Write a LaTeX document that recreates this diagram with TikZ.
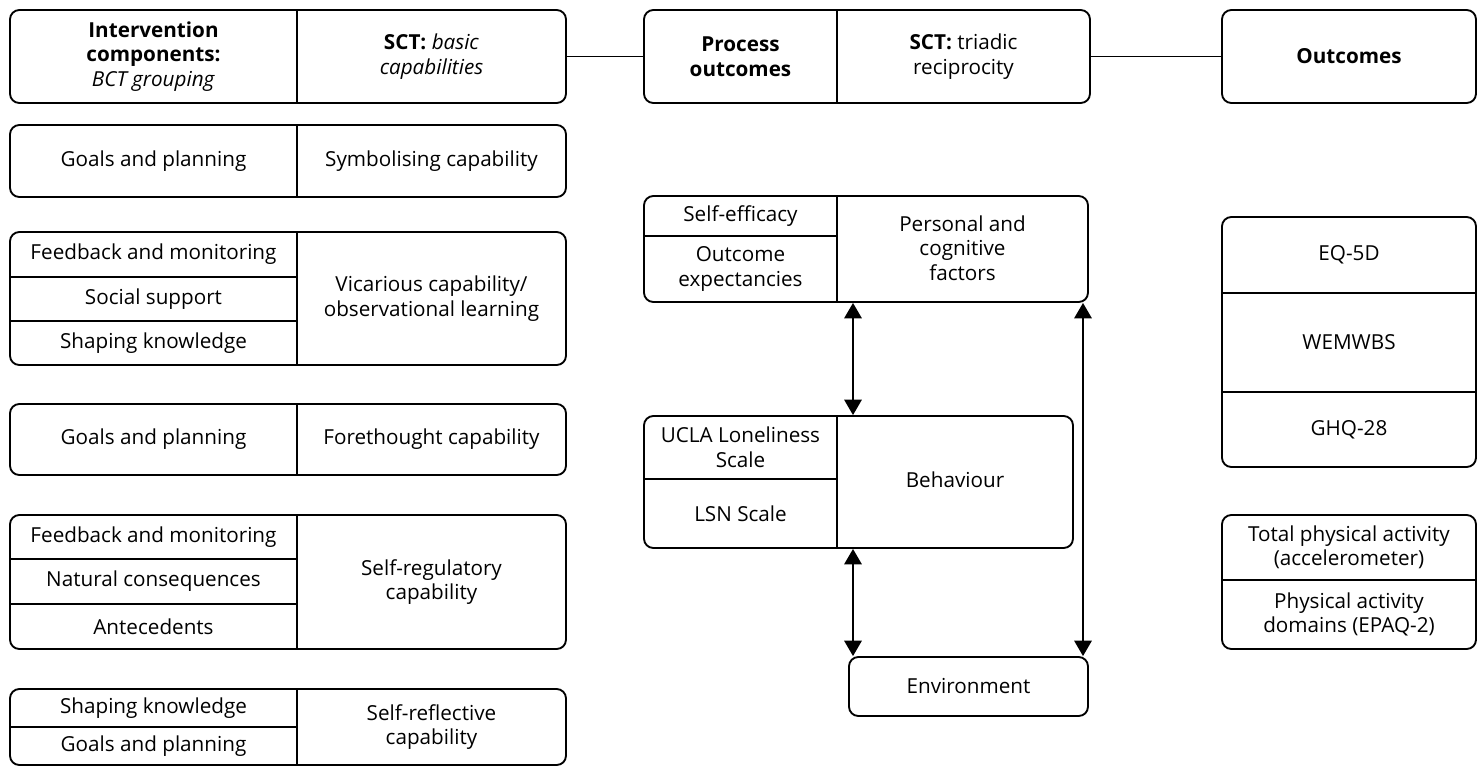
\documentclass[tikz,border=0pt]{standalone}
\usepackage{fontspec}
\setmainfont{Open Sans}
\usetikzlibrary{fit,arrows.meta}

\tikzset{
  box/.style={draw, line width=1.4pt, rounded corners=7pt, inner sep=0pt},
  sep/.style={line width=1.3pt},
  txt/.style={align=center, font=\fontsize{15.5}{18.4}\selectfont, inner sep=0pt},
  link/.style={line width=1.4pt},
  dbl/.style={line width=1.4pt, {Triangle[width=13pt,length=11.5pt]}-{Triangle[width=13pt,length=11.5pt]}},
}

\begin{document}
\begin{tikzpicture}[x=0.75pt,y=-0.75pt]
\useasboundingbox (0,0) rectangle (1478,776);

% header row
\node[box, fit={(10,10) (566,103)}] (hdrL) {};
\draw[sep] (297,10) -- (297,103);
\node[txt] (hdrLa) at (153.5,56.5) {\textbf{Intervention}\\\textbf{components:}\\\textit{BCT grouping}};
\node[txt] (hdrLb) at (431.5,56.5) {\textbf{SCT:} \textit{basic}\\\textit{capabilities}};

\node[box, fit={(644,10) (1090,103)}] (hdrM) {};
\draw[sep] (837,10) -- (837,103);
\node[txt] (hdrMa) at (740.5,56.5) {\textbf{Process}\\\textbf{outcomes}};
\node[txt] (hdrMb) at (963.5,56.5) {\textbf{SCT:} triadic\\reciprocity};

\node[box, fit={(1222,10) (1476,103)}] (hdrR) {};
\node[txt] (hdrRa) at (1349,56.5) {\textbf{Outcomes}};

\draw[link] (hdrL.east) -- (hdrM.west);
\draw[link] (hdrM.east) -- (hdrR.west);

% basic capabilities
\node[box, fit={(10,125) (566,197)}] (symb) {};
\draw[sep] (297,125) -- (297,197);
\node[txt] (symba) at (153.5,161) {Goals and planning};
\node[txt] (symbb) at (431.5,161) {Symbolising capability};

\node[box, fit={(10,232) (566,365)}] (vica) {};
\draw[sep] (297,232) -- (297,365);
\draw[sep] (10,277) -- (297,277);
\draw[sep] (10,321) -- (297,321);
\node[txt] (vicaa) at (153.5,254.5) {Feedback and monitoring};
\node[txt] (vicab) at (153.5,299) {Social support};
\node[txt] (vicac) at (153.5,343) {Shaping knowledge};
\node[txt] (vicad) at (431.5,298.5) {Vicarious capability/\\observational learning};

\node[box, fit={(10,404) (566,475)}] (fore) {};
\draw[sep] (297,404) -- (297,475);
\node[txt] (forea) at (153.5,439.5) {Goals and planning};
\node[txt] (foreb) at (431.5,439.5) {Forethought capability};

\node[box, fit={(10,515) (566,649)}] (sreg) {};
\draw[sep] (297,515) -- (297,649);
\draw[sep] (10,559) -- (297,559);
\draw[sep] (10,604) -- (297,604);
\node[txt] (srega) at (153.5,537) {Feedback and monitoring};
\node[txt] (sregb) at (153.5,581.5) {Natural consequences};
\node[txt] (sregc) at (153.5,626.5) {Antecedents};
\node[txt] (sregd) at (431.5,582) {Self-regulatory\\capability};

\node[box, fit={(10,689) (566,765)}] (sref) {};
\draw[sep] (297,689) -- (297,765);
\draw[sep] (10,727) -- (297,727);
\node[txt] (srefa) at (153.5,708) {Shaping knowledge};
\node[txt] (srefb) at (153.5,746) {Goals and planning};
\node[txt] (srefc) at (431.5,727) {Self-reflective\\capability};

% triadic reciprocity
\node[box, fit={(644,196) (1088,302)}] (pers) {};
\draw[sep] (837,196) -- (837,302);
\draw[sep] (644,236) -- (837,236);
\node[txt] (persa) at (740.5,216) {Self-efficacy};
\node[txt] (persb) at (740.5,269) {Outcome\\expectancies};
\node[txt] (persc) at (962.5,248) {Personal and\\cognitive\\factors};

\node[box, fit={(644,416) (1073,548)}] (beh) {};
\draw[sep] (837,416) -- (837,548);
\draw[sep] (644,479) -- (837,479);
\node[txt] (beha) at (740.5,447.5) {UCLA Loneliness\\Scale};
\node[txt] (behb) at (740.5,513.5) {LSN Scale};
\node[txt] (behc) at (955,480) {Behaviour};

\node[box, fit={(849,657) (1088,716)}] (env) {};
\node[txt] (enva) at (968.5,686.5) {Environment};

\coordinate (ax1) at (853,0);
\coordinate (ax2) at (1083,0);
\draw[dbl] (pers.south -| ax1) -- (beh.north -| ax1);
\draw[dbl] (beh.south -| ax1) -- (env.north -| ax1);
\draw[dbl] (pers.south -| ax2) -- (env.north -| ax2);

% outcome measures
\node[box, fit={(1222,217) (1476,467)}] (meas) {};
\draw[sep] (1222,293) -- (1476,293);
\draw[sep] (1222,392) -- (1476,392);
\node[txt] (measa) at (1349,255) {EQ-5D};
\node[txt] (measb) at (1349,342.5) {WEMWBS};
\node[txt] (measc) at (1349,429.5) {GHQ-28};

\node[box, fit={(1222,515) (1476,649)}] (phys) {};
\draw[sep] (1222,580) -- (1476,580);
\node[txt] (physa) at (1349,547.5) {Total physical activity\\(accelerometer)};
\node[txt] (physb) at (1349,614.5) {Physical activity\\domains (EPAQ-2)};

\end{tikzpicture}
\end{document}
